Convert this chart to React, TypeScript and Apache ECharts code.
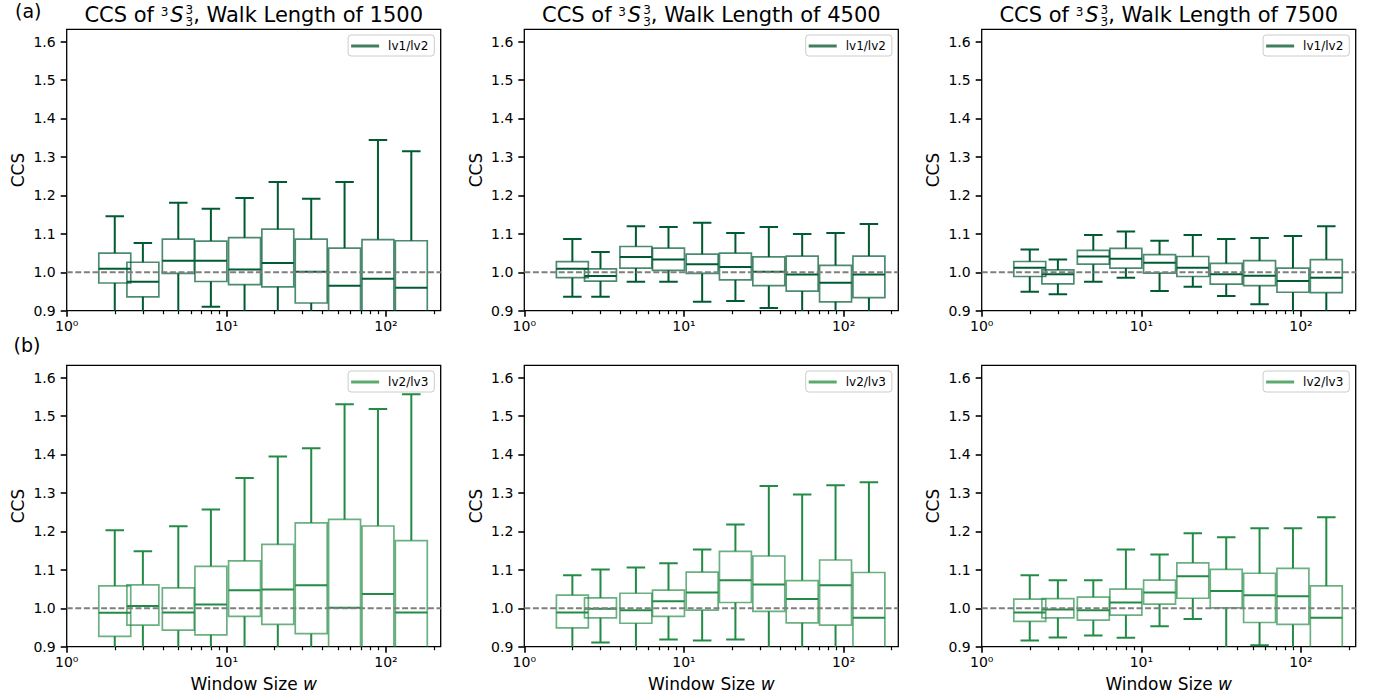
import React, { useEffect, useRef } from "react";
import * as echarts from "echarts";

// ---------- data ----------
const WINDOW_SIZES = [2, 3, 5, 8, 13, 21, 34, 55, 89, 144];
const WALK_LENGTHS = [1500, 4500, 7500];
const SERIES_NAMES = ["lv1/lv2", "lv2/lv3"];
const Y_TICKS = [0.9, 1.0, 1.1, 1.2, 1.3, 1.4, 1.5, 1.6];
const X_MAJOR = [1, 10, 100];
const X_MINOR = [2, 3, 4, 5, 6, 7, 8, 9, 20, 30, 40, 50, 60, 70, 80, 90, 200];
const REF_LEVEL = 1.0;

// each row: [lower whisker, q1, median, q3, upper whisker]
const LV12_1500 = [
  [0.85, 0.972, 1.009, 1.05, 1.146],
  [0.87, 0.936, 0.975, 1.026, 1.076],
  [0.86, 0.997, 1.03, 1.086, 1.181],
  [0.91, 0.976, 1.03, 1.081, 1.165],
  [0.86, 0.968, 1.007, 1.09, 1.193],
  [0.86, 0.962, 1.024, 1.112, 1.235],
  [0.88, 0.92, 1.001, 1.086, 1.191],
  [0.78, 0.86, 0.965, 1.063, 1.235],
  [0.76, 0.85, 0.983, 1.085, 1.344],
  [0.76, 0.85, 0.96, 1.082, 1.315],
];
const LV12_4500 = [
  [0.936, 0.986, 1.009, 1.0275, 1.0865],
  [0.936, 0.977, 0.99, 1.009, 1.053],
  [0.975, 1.011, 1.04, 1.067, 1.12],
  [0.975, 1.005, 1.033, 1.063, 1.118],
  [0.923, 0.997, 1.021, 1.047, 1.129],
  [0.925, 0.98, 1.014, 1.05, 1.102],
  [0.907, 0.965, 1.001, 1.04, 1.118],
  [0.88, 0.951, 0.994, 1.042, 1.0995],
  [0.87, 0.923, 0.973, 1.018, 1.102],
  [0.88, 0.934, 0.994, 1.042, 1.1255],
];
const LV12_7500 = [
  [0.949, 0.989, 1.012, 1.028, 1.059],
  [0.943, 0.97, 0.995, 1.006, 1.033],
  [0.975, 1.021, 1.041, 1.057, 1.097],
  [0.986, 1.011, 1.035, 1.062, 1.106],
  [0.951, 0.998, 1.025, 1.046, 1.082],
  [0.962, 0.989, 1.012, 1.041, 1.097],
  [0.938, 0.969, 0.995, 1.023, 1.0865],
  [0.917, 0.965, 0.991, 1.03, 1.089],
  [0.88, 0.948, 0.977, 1.011, 1.094],
  [0.88, 0.947, 0.986, 1.033, 1.12],
];
const LV23_1500 = [
  [0.86, 0.927, 0.988, 1.058, 1.203],
  [0.87, 0.956, 1.006, 1.061, 1.148],
  [0.86, 0.943, 0.989, 1.053, 1.213],
  [0.87, 0.931, 1.01, 1.109, 1.257],
  [0.85, 0.979, 1.047, 1.123, 1.339],
  [0.85, 0.958, 1.049, 1.166, 1.395],
  [0.85, 0.934, 1.06, 1.222, 1.416],
  [0.7, 0.85, 1.001, 1.231, 1.531],
  [0.7, 0.85, 1.037, 1.214, 1.518],
  [0.7, 0.85, 0.989, 1.176, 1.557],
];
const LV23_4500 = [
  [0.87, 0.949, 0.989, 1.034, 1.0856],
  [0.911, 0.975, 0.999, 1.027, 1.101],
  [0.87, 0.961, 0.995, 1.039, 1.106],
  [0.919, 0.979, 1.018, 1.047, 1.117],
  [0.916, 0.995, 1.041, 1.094, 1.153],
  [0.919, 1.015, 1.073, 1.148, 1.218],
  [0.86, 0.992, 1.062, 1.136, 1.318],
  [0.86, 0.962, 1.024, 1.072, 1.296],
  [0.86, 0.956, 1.06, 1.1255, 1.32],
  [0.76, 0.85, 0.975, 1.093, 1.328],
];
const LV23_7500 = [
  [0.916, 0.966, 0.989, 1.024, 1.0856],
  [0.924, 0.975, 0.997, 1.025, 1.073],
  [0.929, 0.969, 0.995, 1.029, 1.073],
  [0.923, 0.982, 1.015, 1.05, 1.153],
  [0.953, 1.011, 1.041, 1.073, 1.14],
  [0.972, 1.026, 1.083, 1.118, 1.195],
  [0.88, 1.001, 1.045, 1.101, 1.1845],
  [0.904, 0.963, 1.034, 1.091, 1.208],
  [0.88, 0.958, 1.031, 1.104, 1.208],
  [0.8, 0.86, 0.975, 1.058, 1.2365],
];
const PANEL_DATA = [
  [LV12_1500, LV12_4500, LV12_7500],
  [LV23_1500, LV23_4500, LV23_7500],
];

// ---------- styles / layout ----------
const W = 1376;
const H = 700;
const COL_LEFT = [66.7, 524.3, 981.7];
const GRID_W = 374;
const ROW_TOP = [29.3, 365.3];
const GRID_H = 281.4;
const X_MIN = 1;
const X_MAX = 220;
const Y_MIN = 0.9;
const Y_MAX = 1.632;
const BOX_F = Math.pow(10, 0.1);
const CAP_F = Math.pow(10, 0.058);
const FONT = "DejaVu Sans";
const ROW_COLORS = [
  { dark: "#005a32", edge: "rgba(0,90,50,0.7)", legend: "#3f7f5f" },
  { dark: "#238b45", edge: "rgba(35,139,69,0.68)", legend: "#5aaa6e" },
];
const SUP = ["\u2070", "\u00b9", "\u00b2"];

function measure(text: string, font: string) {
  const c = document.createElement("canvas");
  const ctx = c.getContext("2d")!;
  ctx.font = font;
  return ctx.measureText(text).width;
}

function makeRenderItem(dark: string, edge: string) {
  return (params: any, api: any) => {
    const w = api.value(0);
    const lo = api.value(1);
    const q1 = api.value(2);
    const md = api.value(3);
    const q3 = api.value(4);
    const hi = api.value(5);
    const x = (v: number) => api.coord([v, md])[0];
    const y = (v: number) => api.coord([w, v])[1];
    const xc = x(w);
    const xl = x(w / BOX_F);
    const xr = x(w * BOX_F);
    const cl = x(w / CAP_F);
    const cr = x(w * CAP_F);
    const ls = { stroke: dark, lineWidth: 2, fill: "none" };
    return {
      type: "group",
      children: [
        { type: "line", shape: { x1: xc, y1: y(q3), x2: xc, y2: y(hi) }, style: ls },
        { type: "line", shape: { x1: xc, y1: y(lo), x2: xc, y2: y(q1) }, style: ls },
        { type: "line", shape: { x1: cl, y1: y(hi), x2: cr, y2: y(hi) }, style: ls },
        { type: "line", shape: { x1: cl, y1: y(lo), x2: cr, y2: y(lo) }, style: ls },
        {
          type: "rect",
          shape: { x: xl, y: y(q3), width: xr - xl, height: y(q1) - y(q3) },
          style: { fill: "none", stroke: edge, lineWidth: 1.7 },
        },
        { type: "line", shape: { x1: xl, y1: y(md), x2: xr, y2: y(md) }, style: ls },
      ],
    };
  };
}

function buildTitle(cx: number, yc: number, walk: number) {
  const fs = 21;
  const ss = 12;
  const p1 = "CCS of ";
  const p5 = ", Walk Length of " + walk;
  const w1 = measure(p1, `${fs}px "${FONT}"`);
  const wsup = measure("3", `${ss}px "${FONT}"`);
  const wS = measure("S", `italic ${fs}px "${FONT}"`);
  const w5 = measure(p5, `${fs}px "${FONT}"`);
  const total = w1 + wsup + 2 + wS + 2 + wsup + w5;
  let x = cx - total / 2;
  const base = { fontFamily: FONT, fill: "#000" };
  const els: any[] = [];
  els.push({ type: "text", x, y: yc, style: { ...base, text: p1, fontSize: fs, verticalAlign: "middle" } });
  x += w1;
  els.push({ type: "text", x, y: yc - 3, style: { ...base, text: "3", fontSize: ss, verticalAlign: "middle" } });
  x += wsup + 2;
  els.push({ type: "text", x, y: yc, style: { ...base, text: "S", fontSize: fs, fontStyle: "italic", verticalAlign: "middle" } });
  x += wS + 2;
  els.push({ type: "text", x, y: yc - 5, style: { ...base, text: "3", fontSize: ss, verticalAlign: "middle" } });
  els.push({ type: "text", x, y: yc + 7, style: { ...base, text: "3", fontSize: ss, verticalAlign: "middle" } });
  x += wsup;
  els.push({ type: "text", x, y: yc, style: { ...base, text: p5, fontSize: fs, verticalAlign: "middle" } });
  return els;
}

export default function App() {
  const ref = useRef<HTMLDivElement>(null);
  useEffect(() => {
    const chart = echarts.init(ref.current!, null, { renderer: "svg" });
    const grids: any[] = [];
    const xAxes: any[] = [];
    const yAxes: any[] = [];
    const series: any[] = [];
    const legends: any[] = [];
    const graphics: any[] = [];
    let gi = 0;
    for (let r = 0; r < 2; r++) {
      for (let c = 0; c < 3; c++) {
        const left = COL_LEFT[c];
        const top = ROW_TOP[r];
        grids.push({
          left,
          top,
          width: GRID_W,
          height: GRID_H,
          show: true,
          borderColor: "#000",
          borderWidth: 1.3,
          backgroundColor: "#fff",
        });
        const xBase = {
          type: "log",
          logBase: 10,
          min: X_MIN,
          max: X_MAX,
          gridIndex: gi,
          position: "bottom",
          splitLine: { show: false },
          axisLine: { show: false },
        };
        xAxes.push({
          ...xBase,
          name: r === 1 ? "{n|Window Size }{i|w}" : "",
          nameLocation: "middle",
          nameGap: 29,
          nameTextStyle: {
            rich: {
              n: { fontFamily: FONT, fontSize: 17, color: "#000" },
              i: { fontFamily: FONT, fontSize: 17, fontStyle: "italic", color: "#000" },
            },
          },
          axisTick: { show: true, length: 6, lineStyle: { color: "#000", width: 1.6 }, customValues: X_MAJOR },
          axisLabel: {
            show: true,
            customValues: X_MAJOR,
            margin: 8,
            fontFamily: FONT,
            fontSize: 14,
            color: "#000",
            formatter: (v: number) => "10" + SUP[Math.round(Math.log10(v))],
          },
        });
        xAxes.push({
          ...xBase,
          axisTick: { show: true, length: 3.5, lineStyle: { color: "#000", width: 1.2 }, customValues: X_MINOR },
          axisLabel: { show: false },
        });
        yAxes.push({
          type: "value",
          min: Y_MIN,
          max: Y_MAX,
          gridIndex: gi,
          splitLine: { show: false },
          axisLine: { show: false },
          name: "CCS",
          nameLocation: "middle",
          nameRotate: 90,
          nameGap: 40,
          nameTextStyle: { fontFamily: FONT, fontSize: 17, color: "#000" },
          axisTick: { show: true, length: 6, lineStyle: { color: "#000", width: 1.6 }, customValues: Y_TICKS },
          axisLabel: {
            customValues: Y_TICKS,
            margin: 11,
            fontFamily: FONT,
            fontSize: 14,
            color: "#000",
            formatter: (v: number) => v.toFixed(1),
          },
        });
        const col = ROW_COLORS[r];
        const name = SERIES_NAMES[r];
        series.push({
          type: "custom",
          name,
          xAxisIndex: gi * 2,
          yAxisIndex: gi,
          clip: true,
          itemStyle: { color: col.legend },
          renderItem: makeRenderItem(col.dark, col.edge),
          encode: { x: 0, y: [1, 2, 3, 4, 5] },
          data: WINDOW_SIZES.map((w, i) => [w, ...PANEL_DATA[r][c][i]]),
          z: 2,
        });
        series.push({
          type: "line",
          name: "ref" + gi,
          xAxisIndex: gi * 2,
          yAxisIndex: gi,
          symbol: "none",
          silent: true,
          data: [
            [X_MIN, REF_LEVEL],
            [X_MAX, REF_LEVEL],
          ],
          lineStyle: { color: "#7f7f7f", width: 2, type: [6, 2.6] },
          z: 3,
        });
        legends.push({
          data: [{ name, itemStyle: { color: col.legend } }],
          right: W - (left + GRID_W - 6.4),
          top: top + 5.7,
          orient: "vertical",
          selectedMode: false,
          icon: "rect",
          itemWidth: 28,
          itemHeight: 3,
          padding: [5, 6, 4, 3],
          borderColor: "#cccccc",
          borderWidth: 1,
          borderRadius: 3,
          backgroundColor: "rgba(255,255,255,0.8)",
          textStyle: { fontFamily: FONT, fontSize: 12, color: "#000", padding: [0, 0, 0, 4] },
        });
        if (r === 0) {
          graphics.push(...buildTitle(left + GRID_W / 2, 14.5, WALK_LENGTHS[c]));
        }
        gi++;
      }
    }
    graphics.push({
      type: "text",
      left: 15,
      top: 1,
      style: { text: "(a)", fontFamily: FONT, fontSize: 19, fill: "#000" },
    });
    graphics.push({
      type: "text",
      left: 13.5,
      top: 335,
      style: { text: "(b)", fontFamily: FONT, fontSize: 19, fill: "#000" },
    });
    chart.setOption({
      animation: false,
      backgroundColor: "#fff",
      grid: grids,
      xAxis: xAxes,
      yAxis: yAxes,
      legend: legends,
      series,
      graphic: graphics,
    });
    return () => chart.dispose();
  }, []);
  return (
    <div
      ref={ref}
      style={{ position: "fixed", left: 0, top: 0, width: W, height: H, background: "#fff" }}
    />
  );
}
